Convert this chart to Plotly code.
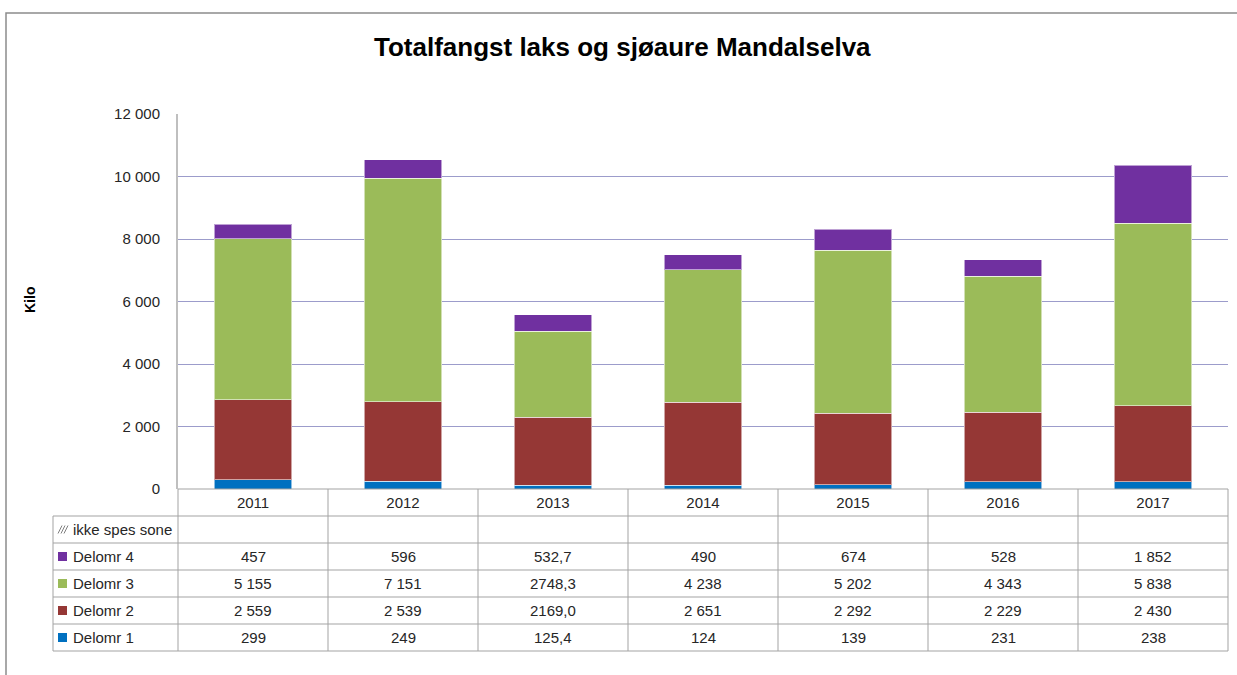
import plotly.graph_objects as go

years = ["2011", "2012", "2013", "2014", "2015", "2016", "2017"]
delomr1 = [299, 249, 125.4, 124, 139, 231, 238]
delomr2 = [2559, 2539, 2169.0, 2651, 2292, 2229, 2430]
delomr3 = [5155, 7151, 2748.3, 4238, 5202, 4343, 5838]
delomr4 = [457, 596, 532.7, 490, 674, 528, 1852]
ikke_spes = [None, None, None, None, None, None, None]

lab1 = ["299", "249", "125,4", "124", "139", "231", "238"]
lab2 = ["2 559", "2 539", "2169,0", "2 651", "2 292", "2 229", "2 430"]
lab3 = ["5 155", "7 151", "2748,3", "4 238", "5 202", "4 343", "5 838"]
lab4 = ["457", "596", "532,7", "490", "674", "528", "1 852"]
lab0 = ["", "", "", "", "", "", ""]

C1, C2, C3, C4 = "#0070C0", "#953735", "#9BBB59", "#7030A0"
FONT = "Liberation Sans"
TXT = "#262626"
GRID = "#9C9CCB"
LINE = "#A3A3A3"
FS = 15

W, H = 1237, 675
L, R, T, B = 178, 1228, 114, 489


def px_x(p):
    return (p - L) / (R - L)


def px_y(p):
    return (B - p) / (B - T)


fig = go.Figure()
idx = list(range(len(years)))
for name, vals, col in [("ikke spes sone", ikke_spes, "#FFFFFF"),
                        ("Delomr 1", delomr1, C1), ("Delomr 2", delomr2, C2),
                        ("Delomr 3", delomr3, C3), ("Delomr 4", delomr4, C4)]:
    fig.add_trace(go.Bar(x=idx, y=vals, name=name, width=0.515,
                         marker=dict(color=col, line=dict(color="rgba(255,255,255,0.55)", width=1))))

shapes = []
# outer chart border
shapes.append(dict(type="rect", xref="paper", yref="paper",
                   x0=px_x(6), x1=px_x(1260), y0=px_y(700), y1=px_y(13),
                   line=dict(color="#8C8C8C", width=1.5), fillcolor="rgba(0,0,0,0)", layer="below"))

# table lines
row_edges = [516, 543, 570, 597, 624, 651]
for y in row_edges:
    shapes.append(dict(type="line", xref="paper", yref="paper", x0=px_x(53), x1=px_x(R),
                       y0=px_y(y), y1=px_y(y), line=dict(color=LINE, width=1)))
shapes.append(dict(type="line", xref="paper", yref="paper", x0=px_x(L), x1=px_x(R),
                   y0=px_y(B), y1=px_y(B), line=dict(color=LINE, width=1)))
for k in range(len(years) + 1):
    xp = L + 150 * k
    shapes.append(dict(type="line", xref="paper", yref="paper", x0=px_x(xp), x1=px_x(xp),
                       y0=px_y(B), y1=px_y(651), line=dict(color=LINE, width=1)))
shapes.append(dict(type="line", xref="paper", yref="paper", x0=px_x(53), x1=px_x(53),
                   y0=px_y(516), y1=px_y(651), line=dict(color=LINE, width=1)))

annotations = []
rows = [("ikke spes sone", lab0, None), ("Delomr 4", lab4, C4), ("Delomr 3", lab3, C3),
        ("Delomr 2", lab2, C2), ("Delomr 1", lab1, C1)]
for r, (name, labs, col) in enumerate(rows):
    yc = 529.5 + 27 * r
    if col:
        shapes.append(dict(type="rect", xref="paper", yref="paper",
                           x0=px_x(58), x1=px_x(67), y0=px_y(yc + 4.5), y1=px_y(yc - 4.5),
                           fillcolor=col, line=dict(width=0)))
    else:
        for off in (0, 3, 6):
            shapes.append(dict(type="line", xref="paper", yref="paper",
                               x0=px_x(58 + off), x1=px_x(62 + off),
                               y0=px_y(yc + 4), y1=px_y(yc - 4),
                               line=dict(color="#7F7F7F", width=1)))
    annotations.append(dict(text=name, xref="paper", yref="paper", x=px_x(71), y=px_y(yc),
                            xanchor="left", yanchor="middle", showarrow=False,
                            font=dict(family=FONT, size=FS, color=TXT)))
    for i, t in enumerate(labs):
        if t:
            annotations.append(dict(text=t, xref="x", yref="paper", x=i, y=px_y(yc),
                                    xanchor="center", yanchor="middle", showarrow=False,
                                    font=dict(family=FONT, size=FS, color=TXT)))

annotations.append(dict(text="<b>Totalfangst laks og sjøaure Mandalselva</b>", xref="paper", yref="paper",
                        x=px_x(622), y=px_y(47), xanchor="center", yanchor="middle", showarrow=False,
                        font=dict(family=FONT, size=26, color="#000000")))
annotations.append(dict(text="<b>Kilo</b>", xref="paper", yref="paper", x=px_x(30), y=px_y(300),
                        xanchor="center", yanchor="middle", textangle=-90, showarrow=False,
                        font=dict(family=FONT, size=14, color="#000000")))

fig.update_layout(
    width=W, height=H,
    margin=dict(l=L, r=W - R, t=T, b=H - B),
    barmode="stack", bargap=0.485, showlegend=False,
    paper_bgcolor="white", plot_bgcolor="white",
    separators=", ",
    font=dict(family=FONT, size=FS, color=TXT),
    shapes=shapes, annotations=annotations,
    xaxis=dict(range=[-0.5, 6.5], tickmode="array", tickvals=idx, ticktext=years,
               showgrid=False, zeroline=False, showline=False, ticks="",
               tickfont=dict(family=FONT, size=FS, color=TXT), ticklabelstandoff=3),
    yaxis=dict(range=[0, 12000], dtick=2000, tickformat=",d", showgrid=True, gridcolor=GRID,
               gridwidth=1, zeroline=False, showline=True, linecolor="#BFBFBF", linewidth=2,
               ticks="", ticklabelstandoff=13,
               tickfont=dict(family=FONT, size=FS, color=TXT)),
)

fig.write_html("out.html", config={"displayModeBar": False},
               post_script="document.body.style.margin='0';document.body.style.overflow='hidden';")
